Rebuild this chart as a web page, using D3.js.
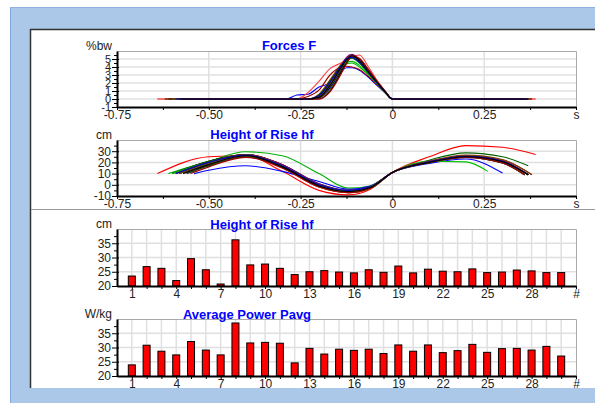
<!DOCTYPE html>
<meta charset="utf-8">
<head>
<style>
body { margin: 0; background: #fff; }
svg { display: block; font-family: Arial, "Liberation Sans", sans-serif; }
.axis text { font-size: 12px; fill: #222; }
.axis.tight text { font-size: 11px; }
.title { font-size: 13px; font-weight: bold; fill: #0000ff; }
.unit { font-size: 12px; fill: #222; }
</style>
</head>
<body>
<svg width="595" height="403"></svg>

<script src="https://d3js.org/d3.v7.min.js"></script>
<script>
// ---- data ----
var trials = [1,2,3,4,5,6,7,8,9,10,11,12,13,14,15,16,17,18,19,20,21,22,23,24,25,26,27,28,29,30];
var heightHf = [23.5,26.8,26.2,21.9,29.6,25.7,20.7,36.2,27.4,27.7,26.2,24.0,25.0,25.4,24.9,
                24.6,25.7,24.8,27.0,24.6,25.9,25.2,25.0,26.0,24.7,24.9,25.6,25.3,24.7,24.7];
var powerAvg = [23.9,30.8,28.7,27.4,32.1,29.1,27.4,38.6,31.6,31.8,31.5,24.6,29.7,27.7,29.4,
                29.0,29.4,27.9,30.9,28.7,30.9,28.2,28.9,31.1,28.3,29.6,29.7,29.1,30.4,27.0];

var curveColors = ['#ff0000','#00b000','#0000ff','#000000','#800080','#006000','#804000','#606000',
                   '#a00000','#000080','#00c000','#000000','#ff4040','#800080','#006000','#804000',
                   '#606000','#a00000','#0000c0','#000000'];

// force F (%bw): start t, end t, then values at forceT
var forceT = [-0.29,-0.26,-0.23,-0.2,-0.17,-0.14,-0.125,-0.11,-0.09,-0.065,-0.04,-0.02,0];
var forceRows = [
  [-0.64,0.39, 0,0,0,0.5,2.3,4.3,5.1,5.5,4.8,3.4,2.0,0.9,0],
  [-0.62,0.37, 0,0,0,0.3,1.6,3.7,4.4,4.5,4.0,3.0,1.8,0.8,0],
  [-0.60,0.35, 0,0.5,0.6,1.5,2.0,3.4,3.9,3.9,3.6,2.7,1.6,0.8,0],
  [-0.61,0.38, 0,0,0,0.4,2.0,4.0,5.0,5.4,4.7,3.4,2.0,0.9,0],
  [-0.60,0.38, 0,0,0,0.3,1.8,3.9,5.0,5.5,4.9,3.5,2.0,0.9,0],
  [-0.59,0.37, 0,0,0,0.2,1.5,3.6,4.7,5.3,4.8,3.4,2.0,0.9,0],
  [-0.60,0.38, 0,0,0,0.6,2.4,4.3,5.1,5.4,4.7,3.3,1.9,0.9,0],
  [-0.58,0.37, 0,0,0,0.1,1.2,3.4,4.6,5.3,4.9,3.5,2.0,0.9,0],
  [-0.62,0.36, 0,0,0.3,1.1,3.0,4.0,4.1,4.0,3.7,2.8,1.7,0.8,0],
  [-0.58,0.38, 0,0,0,0.2,1.4,3.7,4.9,5.4,4.9,3.5,2.0,0.9,0],
  [-0.59,0.26, 0,0,0,0.3,1.9,4.0,4.6,4.7,4.2,3.1,1.8,0.8,0],
  [-0.59,0.37, 0,0,0,0,1.0,3.3,4.5,5.3,5.0,3.6,2.1,1.0,0],
  [-0.60,0.38, 0,0,0.8,2.2,3.8,4.5,4.9,5.3,5.5,4.0,2.2,1.0,0],
  [-0.59,0.37, 0,0,0,0.2,1.7,4.0,5.2,5.6,4.9,3.5,2.0,0.9,0],
  [-0.60,0.37, 0,0,0,0.5,2.2,4.2,4.9,5.1,4.5,3.2,1.9,0.9,0],
  [-0.59,0.38, 0,0,0,0.3,1.9,4.1,5.0,5.3,4.7,3.4,2.0,0.9,0],
  [-0.58,0.37, 0,0,0,0.2,1.6,3.8,4.9,5.4,4.8,3.4,2.0,0.9,0],
  [-0.57,0.36, 0,0,0,0,0.9,3.1,4.4,5.4,5.1,3.7,2.1,1.0,0],
  [-0.59,0.37, 0,0,0,0.4,2.1,4.1,5.0,5.2,4.6,3.3,1.9,0.9,0],
  [-0.58,0.37, 0,0,0,0.2,1.7,3.9,4.9,5.4,4.8,3.4,2.0,0.9,0]
];

// height of rise hf (cm): start t (at 10 cm), end t, values at heightT, end value
var heightT = [-0.5,-0.4,-0.3,-0.2,-0.12,-0.06,0,0.1,0.2,0.3];
var heightRows = [
  [-0.64,0.39, 25,26,12,-5,-9,-4,11,25,35,33.5, 27],
  [-0.61,0.36, 21,29.5,26,10,-3,-1,11,20,25,20, 9],
  [-0.54,0.30, 13,17,12,3,-4,-1,11,19,23,null, 10.5],
  [-0.60,0.37, 21,27,18,0,-6,-2,11,20,25.5,21, 9],
  [-0.59,0.37, 20,26.5,17,-1,-6,-2.5,11,20,25,20.5, 9],
  [-0.60,0.37, 21,27,18,1,-5,-1.5,11,22,28.5,25, 17],
  [-0.58,0.37, 19,26,17,0,-6,-3,11,20,25,20.5, 9],
  [-0.57,0.36, 18,25.5,16,-1,-7,-3,11,20,25,20, 9],
  [-0.59,0.38, 20,27,18,0,-6,-2.5,11,21,26,22, 9],
  [-0.56,0.36, 17,25,16,-1,-6,-2.5,11,20,24.5,19.5, 9],
  [-0.60,0.26, 20,26,16,-2,-7,-3,11,21,20.5,null, 12],
  [-0.58,0.37, 19,26,17,0,-6,-2,11,20.5,25.5,21, 9],
  [-0.57,0.36, 18,25,15,-2,-7,-3,11,20,24.5,19.5, 9],
  [-0.58,0.37, 19,26.5,18,1,-5,-2,11,21,26,21.5, 9],
  [-0.56,0.36, 17,25,16,-1,-6,-3,11,20,24.5,19.5, 9],
  [-0.59,0.38, 20,27,17,-1,-6,-2.5,11,21,26.5,22.5, 9],
  [-0.58,0.37, 19,26,17,0,-6,-2,11,20,25,20.5, 9],
  [-0.55,0.36, 16,24.5,15,-2,-7,-3,11,20,24.5,19.5, 9],
  [-0.59,0.37, 20,26.5,17,0,-5,-2,11,20.5,25.5,21, 9],
  [-0.57,0.37, 18,26,16,-1,-6,-2.5,11,20,25,20.5, 9]
];

var timeTicks = [-0.75,-0.625,-0.5,-0.375,-0.25,-0.125,0,0.125,0.25,0.375,0.5];
var timeLabels = [-0.75,-0.5,-0.25,0,0.25];
var trialTicks = [1,2,3,4,5,6,7,8,9,10,11,12,13,14,15,16,17,18,19,20,21,22,23,24,25,26,27,28,29,30,31];
var trialLabels = [1,4,7,10,13,16,19,22,25,28];

// ---- page frame ----
var svg = d3.select("svg");
svg.append("rect").attr("width", 595).attr("height", 403).attr("fill", "#fff");
svg.append("rect").attr("x", 10).attr("y", 7).attr("width", 585).attr("height", 396).attr("fill", "#abc8e8");
svg.append("line").attr("x1", 10.5).attr("x2", 10.5).attr("y1", 7).attr("y2", 403).attr("stroke", "#7fa8da");
svg.append("line").attr("x1", 10).attr("x2", 595).attr("y1", 7.5).attr("y2", 7.5).attr("stroke", "#8fb3de");
svg.append("rect").attr("x", 30).attr("y", 29).attr("width", 570).attr("height", 359).attr("fill", "#fff");
svg.append("line").attr("x1", 30.5).attr("x2", 30.5).attr("y1", 29).attr("y2", 388).attr("stroke", "#333").attr("stroke-width", 1.5);
svg.append("line").attr("x1", 30).attr("x2", 595).attr("y1", 29.5).attr("y2", 29.5).attr("stroke", "#333").attr("stroke-width", 1.5);
svg.append("line").attr("x1", 31).attr("x2", 595).attr("y1", 209.5).attr("y2", 209.5).attr("stroke", "#999");

var X0 = 117, X1 = 576;
var xt = d3.scaleLinear().domain([-0.75, 0.5]).range([X0, X1]);
var xb = d3.scaleLinear().domain([0, 31]).range([X0, X1]);

var yF = d3.scaleLinear().domain([-1, 6]).range([107, 51]);
var yH = d3.scaleLinear().domain([-10, 40]).range([196, 140]);
var yB = d3.scaleLinear().domain([20, 40]).range([286, 229]);
var yP = d3.scaleLinear().domain([20, 40]).range([376, 319]);

function frame(x, y, vGrid, hGrid) {
  var g = svg.append("g");
  g.selectAll(".gv").data(vGrid).enter().append("line")
      .attr("x1", function(d) { return x(d); }).attr("x2", function(d) { return x(d); })
      .attr("y1", y.range()[1]).attr("y2", y.range()[0])
      .attr("stroke", "#e0e0e0").attr("stroke-width", 1.5);
  g.selectAll(".gh").data(hGrid).enter().append("line")
      .attr("x1", X0).attr("x2", X1)
      .attr("y1", function(d) { return y(d); }).attr("y2", function(d) { return y(d); })
      .attr("stroke", "#e0e0e0").attr("stroke-width", 1.5);
  g.append("path")
      .attr("d", "M" + X0 + "," + (y.range()[1] + 0.5) + "H" + (X1 + 0.5) + "V" + y.range()[0])
      .attr("fill", "none").attr("stroke", "#aaa");
}

function axes(x, y, xTicks, xFmt, yMajor, yMinor, unit, tight) {
  var y0 = y.range()[0];
  var gx = svg.append("g").attr("class", "axis").attr("transform", "translate(0," + y0 + ")")
      .call(d3.axisBottom(x).tickValues(xTicks).tickFormat(xFmt).tickSize(3).tickSizeOuter(0).tickPadding(0));
  gx.select(".domain").attr("stroke", "#000").attr("stroke-width", 2);
  var gm = svg.append("g").attr("class", "axis").attr("transform", "translate(" + X0 + ",0)")
      .call(d3.axisLeft(y).tickValues(yMinor).tickFormat("").tickSize(3));
  gm.select(".domain").remove();
  gm.selectAll("line").attr("x1", 1);
  var gy = svg.append("g").attr("class", tight ? "axis tight" : "axis").attr("transform", "translate(" + X0 + ",0)")
      .call(d3.axisLeft(y).tickValues(yMajor).tickFormat(function(d) { return String(d); })
        .tickSize(5).tickSizeOuter(0).tickPadding(1));
  gy.select(".domain").attr("stroke", "#000").attr("stroke-width", 2);
  gy.selectAll("line").attr("x1", 2);
  svg.append("text").attr("class", "unit").attr("x", 112).attr("y", y.range()[1] - 1)
      .attr("text-anchor", "end").text(unit);
}

function title(x, y, s) {
  svg.append("text").attr("class", "title").attr("x", x).attr("y", y)
      .attr("text-anchor", "middle").text(s);
}

var timeFmt = function(d) {
  if (d === 0.5) return "s";
  if (timeLabels.indexOf(d) < 0) return "";
  return d === 0 ? "0" : d.toFixed(2);
};
var trialFmt = function(d) {
  if (d === 31) return "#";
  return trialLabels.indexOf(d) < 0 ? "" : String(d);
};

// ---- Forces F ----
frame(xt, yF, [-0.5, -0.25, 0, 0.25], [0, 1, 2, 3, 4, 5]);
var lineF = d3.line().curve(d3.curveMonotoneX)
    .x(function(d) { return xt(d[0]); }).y(function(d) { return yF(d[1]); });
svg.append("g").selectAll("path").data(forceRows).enter().append("path")
    .attr("fill", "none").attr("stroke-width", 1.1)
    .attr("stroke", function(d, i) { return curveColors[i]; })
    .attr("d", function(r) {
      var p = [[r[0], 0]];
      forceT.forEach(function(t, i) { p.push([t, r[i + 2]]); });
      p.push([r[1], 0]);
      return lineF(p);
    });
axes(xt, yF, timeTicks, timeFmt, [-1, 0, 1, 2, 3, 4, 5], [-0.5, 0.5, 1.5, 2.5, 3.5, 4.5, 5.5], "%bw", true);
title(289, 50, "Forces F");

// ---- Height of Rise hf (curves) ----
frame(xt, yH, [-0.5, -0.25, 0, 0.25], [0, 10, 20, 30]);
var lineH = d3.line().curve(d3.curveMonotoneX)
    .x(function(d) { return xt(d[0]); }).y(function(d) { return yH(d[1]); });
svg.append("g").selectAll("path").data(heightRows).enter().append("path")
    .attr("fill", "none").attr("stroke-width", 1.1)
    .attr("stroke", function(d, i) { return curveColors[i]; })
    .attr("d", function(r) {
      var p = [[r[0], 10]];
      heightT.forEach(function(t, i) {
        if (t > r[0] && t < r[1] && r[i + 2] != null) p.push([t, r[i + 2]]);
      });
      p.push([r[1], r[r.length - 1]]);
      return lineH(p);
    });
axes(xt, yH, timeTicks, timeFmt, [-10, 0, 10, 20, 30], [-5, 5, 15, 25, 35], "cm");
title(262, 139, "Height of Rise hf");

// ---- bar charts ----
function bars(y, values) {
  svg.append("g").selectAll("rect").data(values).enter().append("rect")
      .attr("x", function(d, i) { return xb(trials[i]) - 3.5; })
      .attr("width", 7)
      .attr("y", function(d) { return y(d); })
      .attr("height", function(d) { return y.range()[0] - y(d); })
      .attr("fill", "#ff0000").attr("stroke", "#000").attr("stroke-width", 1);
}

frame(xb, yB, trials, [25, 30, 35]);
bars(yB, heightHf);
axes(xb, yB, trialTicks, trialFmt, [20, 25, 30, 35], [22.5, 27.5, 32.5, 37.5], "cm");
title(262, 229, "Height of Rise hf");

frame(xb, yP, trials, [25, 30, 35]);
bars(yP, powerAvg);
axes(xb, yP, trialTicks, trialFmt, [20, 25, 30, 35], [22.5, 27.5, 32.5, 37.5], "W/kg");
title(247, 319, "Average Power Pavg");
</script>
</body>
